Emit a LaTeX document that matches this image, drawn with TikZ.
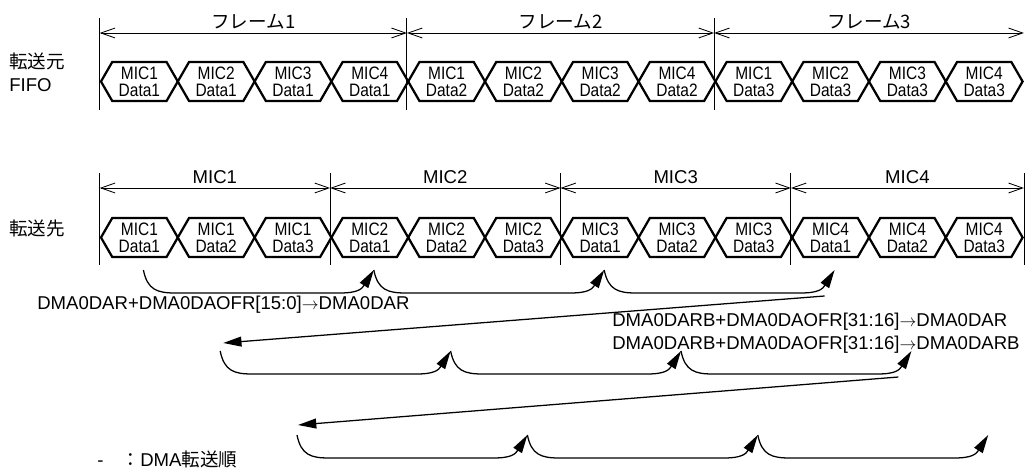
\documentclass[tikz,border=0pt]{standalone}
\usepackage{fontspec}
\setmainfont{Liberation Sans}
\newfontfamily\jp{Noto Sans CJK JP}
\newfontfamily\narrowsf[FakeStretch=0.86]{Liberation Sans}
\usetikzlibrary{shapes.symbols, arrows.meta, calc}

\begin{document}
\begin{tikzpicture}[x=0.025cm, y=0.025cm,
    every node/.style={font=\fontsize{13.2}{16.4}\selectfont, inner sep=0pt},
    hexbox/.style={shape=signal, signal to=west and east, signal pointer angle=120,
      draw, line width=1.6pt, minimum width=1.92cm, minimum height=0.975cm,
      align=center, font=\narrowsf\fontsize{12.8}{12}\selectfont},
    tick/.style={line width=0.6pt},
    dim/.style={line width=0.6pt, {Straight Barb[length=10pt,width=7pt]}-{Straight Barb[length=10pt,width=7pt]}},
    order/.style={line width=0.9pt, -{Triangle[length=13pt,width=7pt]}},
    hop/.style={to path={.. controls +(4,-20) and +(-18,0) .. ($(\tikztostart)+(32,-23)$)
      -- ($(\tikztotarget)+(-34,-23)$) .. controls +(18,0) and +(-12,-19) .. (\tikztotarget)}}]

  \useasboundingbox (0,0) rectangle (1025,468);

  % Fila superior: FIFO de origen
  \foreach \f in {1,2,3}
    \foreach \m in {1,...,4} {
      \pgfmathtruncatemacro\k{4*(\f-1)+\m}
      \node[hexbox] (s\k) at ({101+76.8*(\k-0.5)},386.5) {MIC\m\\Data\f};
    }
  \node[anchor=west, align=left] (src) at (9,396) {{\jp 転送元}\\FIFO};

  \foreach \n in {1,5,9}
    \draw[tick] ($(s\n.west)+(0,63.5)$) -- ($(s\n.west)+(0,-28.5)$);
  \draw[dim] ($(s1.west)+(0,48.5)$) -- node[above=2.5pt] (fr1) {\jp フレーム1} ($(s5.west)+(0,48.5)$);
  \draw[dim] ($(s5.west)+(0,48.5)$) -- node[above=2.5pt] (fr2) {\jp フレーム2} ($(s9.west)+(0,48.5)$);
  \draw[dim] ($(s9.west)+(0,48.5)$) -- node[above=2.5pt] (fr3) {\jp フレーム3} ($(s12.east)+(0,48.5)$);

  % Fila inferior: destino
  \foreach \m in {1,...,4}
    \foreach \d in {1,2,3} {
      \pgfmathtruncatemacro\k{3*(\m-1)+\d}
      \node[hexbox] (d\k) at ({101+76.8*(\k-0.5)},230.5) {MIC\m\\Data\d};
    }
  \node[anchor=west] (dst) at (9,240) {\jp 転送先};

  \foreach \n in {1,4,7,10}
    \draw[tick] ($(d\n.west)+(0,64.5)$) -- ($(d\n.west)+(0,-27.5)$);
  \draw[tick] ($(d12.east)+(0,64.5)$) -- ($(d12.east)+(0,-27.5)$);
  \foreach \m/\a/\b in {1/1/4, 2/4/7, 3/7/10}
    \draw[dim] ($(d\a.west)+(0,49.5)$) -- node[above=2.5pt] (mic\m) {MIC\m} ($(d\b.west)+(0,49.5)$);
  \draw[dim] ($(d10.west)+(0,49.5)$) -- node[above=2.5pt] (mic4) {MIC4} ($(d12.east)+(0,49.5)$);

  % Orden de transferencia DMA
  \foreach \r/\y in {0/198, 1/117, 2/33}
    \foreach \j in {0,...,3} {
      \pgfmathtruncatemacro\k{3*\j+\r+1}
      \coordinate (c\r\j) at ($(d\k.south |- 0,\y)+(4,0)$);
    }
  \foreach \r in {0,1,2}
    \foreach \j [count=\i] in {0,1,2}
      \draw[order] (c\r\j) to[hop] (c\r\i);

  \coordinate (l1a) at ($(c03)+(-10,-26)$);
  \coordinate (l1b) at ($(c10)+(3,8)$);
  \coordinate (l2a) at ($(c13)+(-13,-26)$);
  \coordinate (l2b) at ($(c20)+(1,10)$);
  \draw[order] (l1a) -- (l1b);
  \draw[order] (l2a) -- (l2b);

  % Etiquetas
  \node[anchor=west] (ofs1) at (37,163) {DMA0DAR+DMA0DAOFR[15:0]$\rightarrow$DMA0DAR};
  \node[anchor=west, align=left] (ofs2) at (612,134.5)
    {DMA0DARB+DMA0DAOFR[31:16]$\rightarrow$DMA0DAR\\DMA0DARB+DMA0DAOFR[31:16]$\rightarrow$DMA0DARB};
  \node[anchor=west] (leg) at (97,9) {-\hspace{13pt}{\jp ：}DMA{\jp 転送順}};
\end{tikzpicture}
\end{document}
